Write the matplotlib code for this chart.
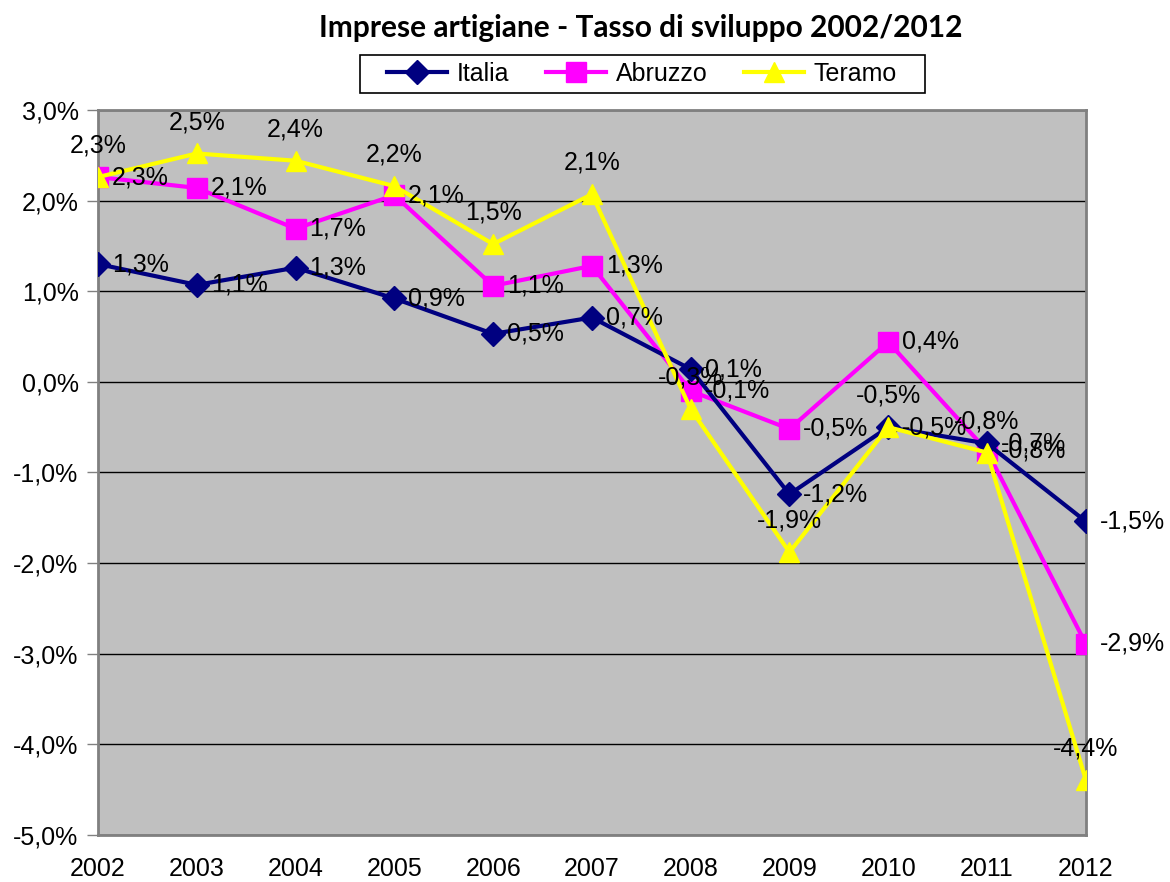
import matplotlib
matplotlib.use("Agg")
import matplotlib.pyplot as plt
import matplotlib.ticker as mticker
from matplotlib.patches import Rectangle

anni = [2002, 2003, 2004, 2005, 2006, 2007, 2008, 2009, 2010, 2011, 2012]
italia = [1.30, 1.07, 1.26, 0.92, 0.53, 0.71, 0.14, -1.24, -0.50, -0.68, -1.54]
abruzzo = [2.26, 2.14, 1.69, 2.06, 1.06, 1.28, -0.10, -0.52, 0.44, -0.76, -2.89]
teramo = [2.26, 2.52, 2.44, 2.16, 1.52, 2.07, -0.30, -1.88, -0.50, -0.78, -4.39]

plt.rcParams['font.family'] = ['Liberation Sans', 'DejaVu Sans']

fig = plt.figure(figsize=(11.7, 8.82), dpi=100)
ax = fig.add_axes([0.0838, 0.0533, 0.928 - 0.0838, 0.8753 - 0.0533])
ax.set_facecolor('#c0c0c0')


def lab(v):
    return ('%.1f%%' % v).replace('.', ',')


ax.plot(anni, italia, color='#000080', lw=3, marker='D', ms=12, label='Italia', zorder=5)
ax.plot(anni, abruzzo, color='#ff00ff', lw=3, marker='s', ms=14, label='Abruzzo', zorder=4)
ax.plot(anni, teramo, color='#ffff00', lw=3, marker='^', ms=15, label='Teramo', zorder=6)

fs = 18
for x, v in zip(anni, italia):
    ax.annotate(lab(v), (x, v), xytext=(10, 0), textcoords='offset points',
                ha='left', va='center', fontsize=fs, zorder=8, annotation_clip=False)
for x, v in zip(anni, abruzzo):
    ax.annotate(lab(v), (x, v), xytext=(10, 0), textcoords='offset points',
                ha='left', va='center', fontsize=fs, zorder=8, annotation_clip=False)
for x, v in zip(anni, teramo):
    ax.annotate(lab(v), (x, v), xytext=(0, 14), textcoords='offset points',
                ha='center', va='bottom', fontsize=fs, zorder=8, annotation_clip=False)

ax.set_xlim(2002, 2012)
ax.set_ylim(-5, 3)
ax.set_xticks(anni)
ax.set_xticklabels([str(a) for a in anni], fontsize=fs)
ax.set_yticks(range(-5, 4))
ax.yaxis.set_major_formatter(mticker.FuncFormatter(lambda v, p: lab(v)))
ax.tick_params(axis='y', labelsize=fs, length=8, width=1, color='#808080', pad=6)
ax.tick_params(axis='x', length=0, pad=16)
ax.grid(axis='y', color='black', lw=1)
ax.set_axisbelow(True)
for s in ax.spines.values():
    s.set_color('#808080')
    s.set_linewidth(2)

fig.text(0.548, 0.968, 'Imprese artigiane - Tasso di sviluppo 2002/2012',
         ha='center', va='center', fontsize=21.5, fontweight='bold', family='Lato')

# legend box drawn separately (Excel style: wide side padding)
fig.patches.append(Rectangle((360 / 1170, 1 - 93 / 882), 565 / 1170, 38 / 882,
                             transform=fig.transFigure, facecolor='white',
                             edgecolor='black', lw=1.2, zorder=0))
leg = fig.legend(loc='center', bbox_to_anchor=(642 / 1170, 1 - 74 / 882), ncol=3,
                 fontsize=fs, frameon=False,
                 handlelength=2.4, columnspacing=1.45, borderpad=0.2, handletextpad=0.4)

fig.savefig('out.png', dpi=100)
